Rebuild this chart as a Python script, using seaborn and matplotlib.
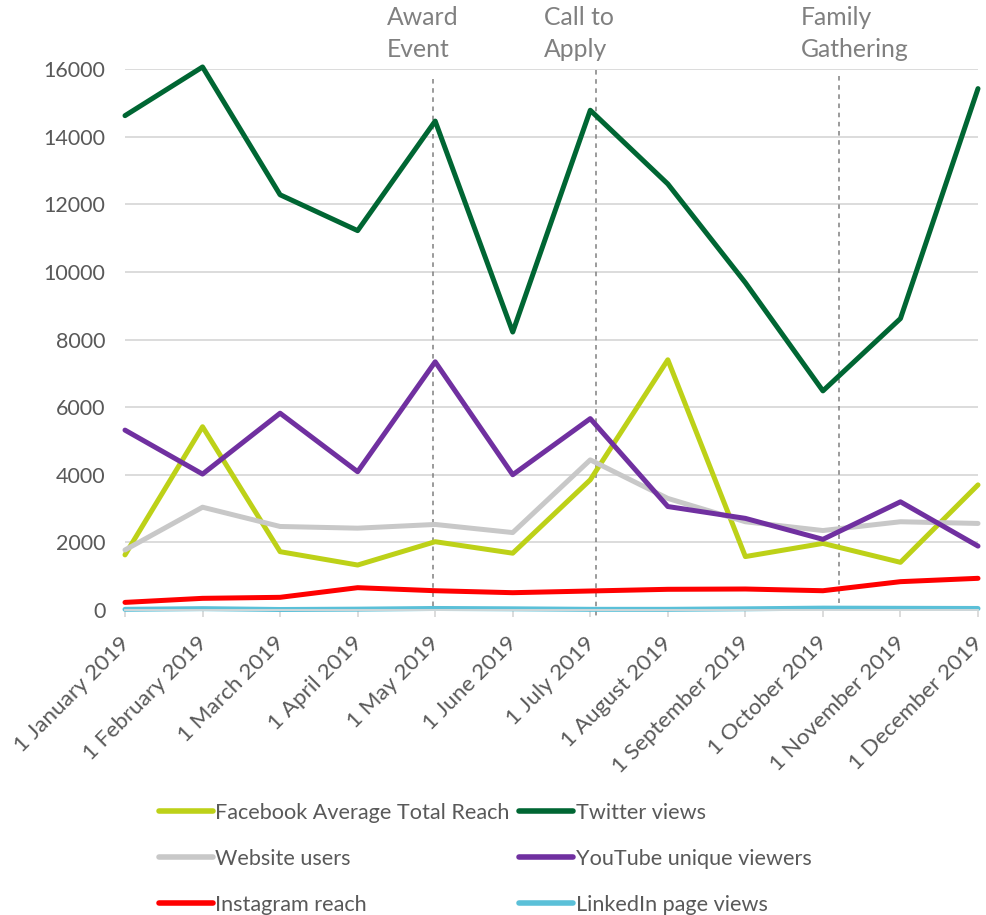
import matplotlib
matplotlib.use("Agg")
import matplotlib.pyplot as plt
import matplotlib.transforms as mtransforms
import seaborn as sns
import pandas as pd

months = ["1 January 2019", "1 February 2019", "1 March 2019", "1 April 2019",
          "1 May 2019", "1 June 2019", "1 July 2019", "1 August 2019",
          "1 September 2019", "1 October 2019", "1 November 2019", "1 December 2019"]

facebook = [1630, 5420, 1725, 1330, 2020, 1680, 3850, 7400, 1580, 1970, 1410, 3700]
twitter = [14620, 16060, 12280, 11220, 14460, 8220, 14780, 12600, 9680, 6480, 8620, 15420]
website = [1775, 3040, 2470, 2420, 2530, 2290, 4440, 3300, 2610, 2350, 2610, 2560]
youtube = [5320, 4020, 5820, 4090, 7340, 4000, 5660, 3060, 2710, 2090, 3200, 1890]
instagram = [225, 345, 375, 660, 570, 512, 562, 612, 621, 570, 838, 937]
linkedin = [20, 40, 15, 25, 45, 35, 20, 20, 35, 55, 50, 45]

series_names = ["Facebook Average Total Reach", "Website users", "Instagram reach",
                "Twitter views", "YouTube unique viewers", "LinkedIn page views"]
series_values = [facebook, website, instagram, twitter, youtube, linkedin]
colors = ["#BDD118", "#C8C8C8", "#FF0000", "#006633", "#7030A0", "#5BC0D8"]

events = ["Award\nEvent", "Call to\nApply", "Family\nGathering"]
event_x = [3.97, 6.08, 9.21]
event_text_x = [3.38, 5.40, 8.72]
event_y = [(15700, 0), (15980, -230), (15800, 200)]

rows = []
for name, vals in zip(series_names, series_values):
    for i, v in enumerate(vals):
        rows.append({"idx": i, "value": v, "series": name})
df = pd.DataFrame(rows)

sns.set_theme(style="white")
plt.rcParams["font.family"] = ["Lato", "DejaVu Sans"]

fig = plt.figure(figsize=(9.87, 9.15), dpi=100)
ax = fig.add_axes([125/987, 1-610/915, (978-125)/987, (610-69)/915])

palette = dict(zip(series_names, colors))
sns.lineplot(data=df, x="idx", y="value", hue="series", hue_order=series_names,
             palette=palette, linewidth=3.6, ax=ax, legend=True, sort=False)
for ln in ax.get_lines():
    ln.set_clip_on(False)

ax.set_xlim(0, 11)
ax.set_ylim(0, 16000)
ax.set_yticks(range(0, 16001, 2000))
ax.set_yticklabels([str(v) for v in range(0, 16001, 2000)])
ax.set_xticks(range(12))
ax.set_xticklabels(months, rotation=45, ha="right", va="top", rotation_mode="anchor")
ax.set_xlabel("")
ax.set_ylabel("")
ax.grid(axis="y", color="#D9D9D9", linewidth=1.3)
ax.set_axisbelow(True)
for s in ["top", "right", "left"]:
    ax.spines[s].set_visible(False)
ax.spines["bottom"].set_color("#D9D9D9")
ax.spines["bottom"].set_linewidth(1.3)
ax.tick_params(axis="y", length=0, pad=14, labelsize=15.5, labelcolor="#595959")
ax.tick_params(axis="x", length=5, width=1.3, color="#D9D9D9", pad=5,
               labelsize=16.2, labelcolor="#595959", direction="out", bottom=True)
offset = mtransforms.ScaledTranslation(-6/100, -9/100, fig.dpi_scale_trans)
for lbl in ax.get_xticklabels():
    lbl.set_transform(lbl.get_transform() + offset)

trans = mtransforms.blended_transform_factory(ax.transData, ax.transAxes)
for lab, ex, tx, (y0, y1) in zip(events, event_x, event_text_x, event_y):
    ax.plot([ex, ex], [y0, y1], color="#808080", linewidth=1.1,
            linestyle=(0, (3, 3)), clip_on=False, zorder=1)
    ax.text(tx, 1.116, lab, transform=trans, ha="left", va="top",
            fontsize=17.8, color="#808080", linespacing=1.45)

handles, labels = ax.get_legend_handles_labels()
ax.get_legend().remove()
for h in handles:
    h.set_linewidth(4)
    h.set_solid_capstyle("round")
leg = fig.legend(handles, labels, loc="center", ncol=2,
                 bbox_to_anchor=(485/987, 1-859/915), frameon=False,
                 fontsize=15.6, handlelength=2.5, handletextpad=0.1,
                 columnspacing=0.45, labelspacing=1.2)
for t in leg.get_texts():
    t.set_color("#595959")

fig.savefig("out.png", dpi=100)
